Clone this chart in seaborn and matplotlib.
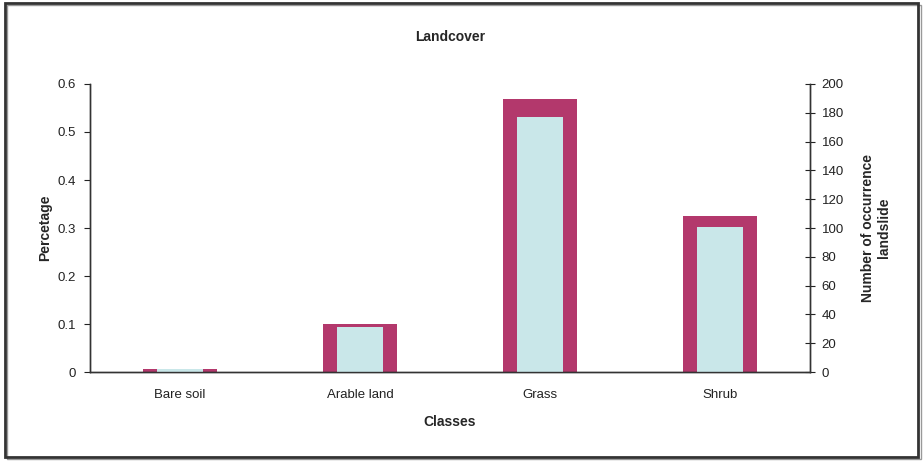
import matplotlib
matplotlib.use("Agg")
import matplotlib.pyplot as plt
import seaborn as sns
import pandas as pd
from matplotlib.patches import Rectangle

# data
classes = ["Bare soil", "Arable land", "Grass", "Shrub"]
percentage = [0.006, 0.100, 0.568, 0.325]
occurrence = [2, 31, 177, 101]

df = pd.DataFrame({"Classes": classes, "Percentage": percentage, "Occurrence": occurrence})

sns.set_style("white")
plt.rcParams["font.family"] = ["Liberation Sans", "DejaVu Sans"]

fig = plt.figure(figsize=(9.23, 4.61), dpi=100)
ax = fig.add_axes([0.0975, 0.193, 0.78, 0.6248])

sns.barplot(data=df, x="Classes", y="Percentage", color="#B3386C", width=0.41,
            saturation=1, linewidth=0, edgecolor="none", ax=ax)
ax2 = ax.twinx()
sns.barplot(data=df, x="Classes", y="Occurrence", color="#C9E7E9", width=0.26,
            saturation=1, linewidth=0, edgecolor="none", ax=ax2)

ax.set_xlim(-0.5, 3.5)
ax.set_ylim(0, 0.6)
ax2.set_ylim(0, 200)
ax.set_yticks([0, 0.1, 0.2, 0.3, 0.4, 0.5, 0.6])
ax.set_yticklabels(["0", "0.1", "0.2", "0.3", "0.4", "0.5", "0.6"])
ax2.set_yticks(range(0, 201, 20))

# category boundaries carry the ticks, labels sit in between
ax.set_xticks([-0.5, 0.5, 1.5, 2.5, 3.5])
ax.set_xticklabels([])
ax.set_xticks(range(4), minor=True)
ax.tick_params(axis="x", which="minor", length=0, pad=12, labelsize=9.5, colors="#222222")
ax.set_xticklabels(classes, minor=True)
ax.tick_params(axis="x", which="major", length=5, direction="out", color="#555555")
ax.tick_params(axis="y", length=4, direction="out", labelsize=9.5, colors="#222222",
               pad=6)
ax2.tick_params(axis="y", length=7, direction="inout", labelsize=9.5, colors="#222222",
                pad=5)

for a in (ax, ax2):
    for s in a.spines.values():
        s.set_color("#333333")
        s.set_linewidth(1.0)
    a.spines["top"].set_visible(False)
    a.grid(False)

ax.set_xlabel("Classes", fontsize=10, fontweight="bold", labelpad=10)
ax.set_ylabel("Percetage", fontsize=10, fontweight="bold", labelpad=4)
ax2.set_xlabel("")
ax2.set_ylabel("Number of occurrence\nlandslide", fontsize=10, fontweight="bold",
               labelpad=12)
ax.set_title("Landcover", fontsize=10, fontweight="bold", pad=31)

# outer frame like the original chart border
fig.patches.append(Rectangle((0.005, 0.008), 0.99, 0.985, transform=fig.transFigure,
                             fill=False, edgecolor="#333333", linewidth=2.0))
fig.patches.append(Rectangle((0.0075, 0.0035), 0.99, 0.985, transform=fig.transFigure,
                             fill=False, edgecolor="#999999", linewidth=1.0, zorder=-1))

fig.savefig("out.png", dpi=100)
